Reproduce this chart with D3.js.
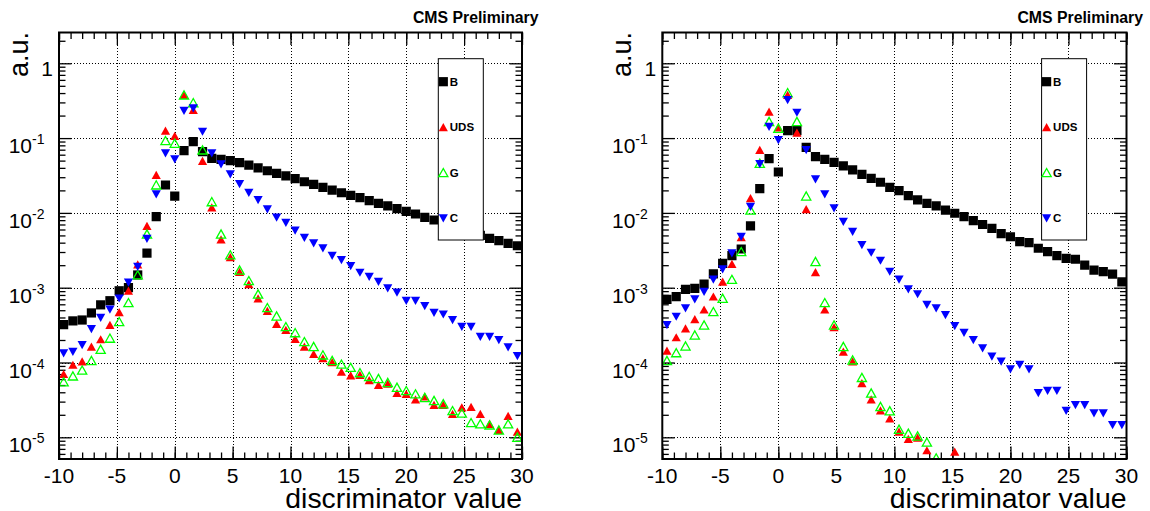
<!DOCTYPE html>
<html><head><meta charset="utf-8">
<script src="https://cdn.jsdelivr.net/npm/d3@7/dist/d3.min.js"></script>
<style>
body{margin:0;background:#fff}
svg{display:block}
text{font-family:"Liberation Sans",Arial,Helvetica,sans-serif;fill:#000}
</style>
</head><body>
<svg id="chart" width="1150" height="511"></svg>
<script>
// ---------- data ----------
const binCenters = [-9.6,-8.8,-8.0,-7.2,-6.4,-5.6,-4.8,-4.0,-3.2,-2.4,-1.6,-0.8,0.0,0.8,1.6,2.4,3.2,4.0,4.8,5.6,
  6.4,7.2,8.0,8.8,9.6,10.4,11.2,12.0,12.8,13.6,14.4,15.2,16.0,16.8,17.6,18.4,19.2,20.0,20.8,21.6,
  22.4,23.2,24.0,24.8,25.6,26.4,27.2,28.0,28.8,29.6];

const leftB = [3.2e-4,3.6e-4,3.7e-4,4.6e-4,5.9e-4,6.7e-4,9.1e-4,1.0e-3,1.48e-3,2.9e-3,
  8.9e-3,0.0236,0.0168,0.068,0.0895,0.066,0.0535,0.052,0.050,0.0471,
  0.0436,0.0401,0.0366,0.0338,0.0312,0.0287,0.0261,0.0241,0.022,0.0202,
  0.0186,0.0172,0.016,0.0146,0.0134,0.0124,0.0114,0.0105,0.00967,0.00873,
  0.00804,0.00735,0.0068,0.0063,0.0057,0.0050,0.00457,0.00425,0.00392,0.00364];
const leftUDS = [7.0e-5,9.3e-5,1.03e-4,1.63e-4,2.04e-4,3.17e-4,4.69e-4,9.1e-4,2.05e-3,6.7e-3,
  0.0321,0.1256,0.1067,0.377,0.237,0.0494,0.0118,4.4e-3,2.55e-3,1.62e-3,
  1.11e-3,7.2e-4,4.88e-4,3.27e-4,2.72e-4,2.06e-4,1.63e-4,1.30e-4,1.14e-4,1.01e-4,
  7.5e-5,6.7e-5,6.8e-5,5.8e-5,5.0e-5,5.2e-5,3.9e-5,3.8e-5,3.2e-5,3.5e-5,
  2.7e-5,2.7e-5,2.05e-5,2.5e-5,2.55e-5,2.05e-5,1.51e-5,1.25e-5,1.93e-5,1.19e-5];
const leftG = [5.5e-5,6.6e-5,7.9e-5,1.06e-4,1.50e-4,2.11e-4,3.51e-4,6.3e-4,1.48e-3,5.2e-3,
  0.0236,0.0923,0.0852,0.377,0.297,0.0693,0.0141,5.2e-3,2.74e-3,1.72e-3,
  1.24e-3,8.2e-4,5.4e-4,4.18e-4,3.01e-4,2.50e-4,1.90e-4,1.63e-4,1.26e-4,1.06e-4,
  9.5e-5,8.6e-5,7.3e-5,6.5e-5,6.1e-5,5.4e-5,4.66e-5,4.2e-5,3.8e-5,3.4e-5,
  3.1e-5,2.8e-5,2.27e-5,2.1e-5,1.57e-5,1.51e-5,1.46e-5,1.25e-5,1.51e-5,1.0e-5];
const leftC = [1.33e-4,1.39e-4,1.71e-4,2.8e-4,3.97e-4,5.1e-4,7.2e-4,1.17e-3,1.9e-3,4.5e-3,
  0.0177,0.0626,0.052,0.232,0.25,0.122,0.0626,0.0447,0.0328,0.0243,
  0.0186,0.0149,0.0112,8.7e-3,7.4e-3,5.8e-3,4.66e-3,3.93e-3,3.37e-3,2.68e-3,
  2.35e-3,1.95e-3,1.59e-3,1.40e-3,1.20e-3,9.8e-4,8.6e-4,6.7e-4,6.7e-4,5.7e-4,
  4.63e-4,4.4e-4,3.7e-4,3.01e-4,3.01e-4,2.21e-4,2.21e-4,2.0e-4,1.6e-4,1.22e-4];

const rightB = [7.0e-4,7.6e-4,9.5e-4,9.8e-4,1.12e-3,1.53e-3,2.12e-3,2.69e-3,3.29e-3,6.7e-3,
  0.0211,0.0531,0.0352,0.1256,0.1256,0.0753,0.0564,0.052,0.0475,0.0424,
  0.0375,0.0328,0.029,0.0257,0.022,0.0198,0.017,0.0149,0.0134,0.0124,
  0.0109,9.9e-3,8.9e-3,7.9e-3,7.0e-3,6.2e-3,5.3e-3,4.8e-3,4.12e-3,4.0e-3,
  3.37e-3,3.03e-3,2.68e-3,2.47e-3,2.4e-3,2.01e-3,1.72e-3,1.64e-3,1.52e-3,1.2e-3];
const rightUDS = [1.44e-4,2.17e-4,2.85e-4,3.78e-4,5.1e-4,7.6e-4,1.2e-3,2.07e-3,4.72e-3,0.0157,
  0.0693,0.225,0.139,0.377,0.118,0.0112,1.61e-3,5.1e-4,2.95e-4,1.39e-4,
  1.03e-4,5.3e-5,3.2e-5,2.28e-5,1.79e-5,1.19e-5,9.5e-6,9.9e-6,6.7e-6,null,
  null,6.4e-6,null,null,null,null,null,null,null,null,
  null,null,null,null,null,null,null,null,null,null];
const rightG = [1.06e-4,1.35e-4,1.66e-4,2.33e-4,3.17e-4,4.78e-4,7.2e-4,1.29e-3,3.03e-3,0.0109,
  0.046,0.166,0.135,0.404,0.166,0.0168,2.23e-3,6.3e-4,3.17e-4,1.63e-4,
  1.08e-4,6.3e-5,3.9e-5,2.57e-5,2.26e-5,1.28e-5,1.13e-5,1.04e-5,8.6e-6,5.3e-6,
  null,null,null,null,null,null,null,null,null,null,
  null,null,null,null,null,null,null,null,null,null];
const rightC = [3.17e-4,4.1e-4,5.3e-4,7.0e-4,8.8e-4,1.29e-3,1.76e-3,2.88e-3,4.8e-3,0.0121,
  0.045,0.142,0.0944,0.323,0.219,0.0693,0.0281,0.0177,0.0115,7.6e-3,
  5.6e-3,3.72e-3,2.94e-3,2.3e-3,1.64e-3,1.29e-3,9.5e-4,8.2e-4,5.9e-4,5.3e-4,
  4.3e-4,3.08e-4,2.5e-4,2.0e-4,1.55e-4,1.2e-4,1.03e-4,8.1e-5,9.3e-5,8.1e-5,
  3.9e-5,4.2e-5,4.2e-5,2.27e-5,2.7e-5,2.7e-5,2.1e-5,2.1e-5,1.46e-5,1.46e-5];

const seriesNames = ["B","UDS","G","C"];
const xTickValues = [-10,-5,0,5,10,15,20,25,30];
const xTickLabels = ["-10","-5","0","5","10","15","20","25","30"];
const yTickValues = [1,1e-1,1e-2,1e-3,1e-4,1e-5];
const yTickExponents = [null,"-1","-2","-3","-4","-5"];
const xTitle = "discriminator value";
const yTitle = "a.u.";
const headerText = "CMS Preliminary";

// ---------- layout ----------
const svg = d3.select("#chart");
const panels = [
  {id:"L", left:59, right:522, data:[leftB,leftUDS,leftG,leftC]},
  {id:"R", left:662.3, right:1126.5, data:[rightB,rightUDS,rightG,rightC]}
];
const frameTop = 32.5, frameBottom = 459;
const yDomain = [5.13e-6, 2.58];
const styles = [
  {shape:"square", fill:"#000", stroke:"none"},
  {shape:"up", fill:"#ff0000", stroke:"none"},
  {shape:"up", fill:"none", stroke:"#00ff00"},
  {shape:"down", fill:"#0000ff", stroke:"none"}
];
function markerPath(shape, cx, cy){
  if(shape==="square") return `M${cx-4.6},${cy-4.6}h9.2v9.2h-9.2Z`;
  if(shape==="up") return `M${cx-4.6},${cy+4}L${cx+4.6},${cy+4}L${cx},${cy-4.2}Z`;
  return `M${cx-4.6},${cy-4}L${cx+4.6},${cy-4}L${cx},${cy+4.2}Z`;
}

panels.forEach(p => {
  const x = d3.scaleLinear().domain([-10,30]).range([p.left,p.right]);
  const y = d3.scaleLog().domain(yDomain).range([frameBottom,frameTop]);
  const g = svg.append("g");
  const W = p.right - p.left, H = frameBottom - frameTop;

  svg.append("clipPath").attr("id","clip"+p.id).append("rect")
    .attr("x",p.left).attr("y",frameTop).attr("width",W).attr("height",H);

  // grid
  const grid = g.append("g").attr("stroke","#000").attr("stroke-width",1)
    .attr("stroke-dasharray","1,2").attr("shape-rendering","crispEdges");
  xTickValues.filter(v => v>-10 && v<30).forEach(v => {
    grid.append("line").attr("x1",Math.round(x(v))+0.5).attr("x2",Math.round(x(v))+0.5)
      .attr("y1",frameTop).attr("y2",frameBottom);
  });
  yTickValues.forEach(v => {
    grid.append("line").attr("y1",Math.round(y(v))+0.5).attr("y2",Math.round(y(v))+0.5)
      .attr("x1",p.left).attr("x2",p.right);
  });

  // axes (ticks inward)
  const xMinor = d3.range(-10,31,1);
  const yMinor = [];
  [1e-6,1e-5,1e-4,1e-3,1e-2,1e-1,1].forEach(d => { for(let k=2;k<=9;k++){ const v=d*k; if(v>=yDomain[0]&&v<=yDomain[1]) yMinor.push(v);} });
  const axesDefs = [
    [d3.axisTop(x).tickValues(xMinor).tickSize(6.5), `translate(0,${frameBottom})`],
    [d3.axisTop(x).tickValues(xTickValues).tickSize(12.5), `translate(0,${frameBottom})`],
    [d3.axisBottom(x).tickValues(xMinor).tickSize(6.5), `translate(0,${frameTop})`],
    [d3.axisBottom(x).tickValues(xTickValues).tickSize(12.5), `translate(0,${frameTop})`],
    [d3.axisRight(y).tickValues(yMinor).tickSize(6.5), `translate(${p.left},0)`],
    [d3.axisRight(y).tickValues(yTickValues).tickSize(12.5), `translate(${p.left},0)`],
    [d3.axisLeft(y).tickValues(yMinor).tickSize(6.5), `translate(${p.right},0)`],
    [d3.axisLeft(y).tickValues(yTickValues).tickSize(12.5), `translate(${p.right},0)`]
  ];
  const axesG = g.append("g");
  axesDefs.forEach(([ax,tr]) => {
    const a = axesG.append("g").attr("transform",tr).call(ax.tickFormat(""));
    a.select(".domain").remove();
    a.selectAll("text").remove();
    a.selectAll("line").attr("stroke","#000").attr("stroke-width",1.3);
  });

  // tick labels
  xTickValues.forEach((v,i) => {
    g.append("text").attr("x",x(v)).attr("y",483).attr("text-anchor","middle")
      .attr("font-size",21).text(xTickLabels[i]);
  });
  yTickValues.forEach((v,i) => {
    const e = yTickExponents[i];
    if(e===null){
      g.append("text").attr("x",p.left-6).attr("y",y(v)+13).attr("text-anchor","end")
        .attr("font-size",21).text("1");
    } else {
      const t = g.append("text").attr("x",p.left-14.5).attr("y",y(v)+15).attr("text-anchor","end")
        .attr("font-size",21);
      t.append("tspan").text("10");
      t.append("tspan").attr("font-size",14).attr("dy",-9).text(e);
    }
  });

  // titles
  g.append("text").attr("transform",`translate(${p.left-31},${frameTop-0.5}) rotate(-90)`)
    .attr("text-anchor","end").attr("font-size",27).text(yTitle);
  g.append("text").attr("x",p.right).attr("y",508).attr("text-anchor","end")
    .attr("font-size",28.4).text(xTitle);
  g.append("text").attr("x",p.right+16.5).attr("y",22.5).attr("text-anchor","end")
    .attr("font-size",15.8).attr("font-weight","bold").text(headerText);

  // markers
  const mk = g.append("g").attr("clip-path",`url(#clip${p.id})`);
  p.data.forEach((vals,si) => {
    const st = styles[si];
    const pts = binCenters.map((c,i) => ({c, v: vals[i]})).filter(d => d.v !== null && d.v > 0);
    mk.append("g").selectAll("path").data(pts).join("path")
      .attr("d", d => markerPath(st.shape, x(d.c), y(d.v)))
      .attr("fill", st.fill).attr("stroke", st.stroke).attr("stroke-width", st.stroke==="none"?0:1.3);
  });

  // frame
  g.append("rect").attr("x",p.left).attr("y",frameTop).attr("width",W).attr("height",H)
    .attr("fill","none").attr("stroke","#000").attr("stroke-width",2);

  // legend
  const lx = p.left + 379.3, ly = 58.7, lw = 45, lh = 181.3;
  const lg = g.append("g");
  lg.append("rect").attr("x",lx).attr("y",ly).attr("width",lw).attr("height",lh)
    .attr("fill","#fff").attr("stroke","#000").attr("stroke-width",1);
  seriesNames.forEach((n,i) => {
    const yy = ly + 23 + i*45.5;
    lg.append("path").attr("d", markerPath(styles[i].shape, lx+5, yy))
      .attr("fill",styles[i].fill).attr("stroke",styles[i].stroke)
      .attr("stroke-width",styles[i].stroke==="none"?0:1.3);
    lg.append("text").attr("x",lx+11.5).attr("y",yy+4.2).attr("font-size",11.5)
      .attr("font-weight","bold").text(n);
  });
});
</script>
</body></html>
